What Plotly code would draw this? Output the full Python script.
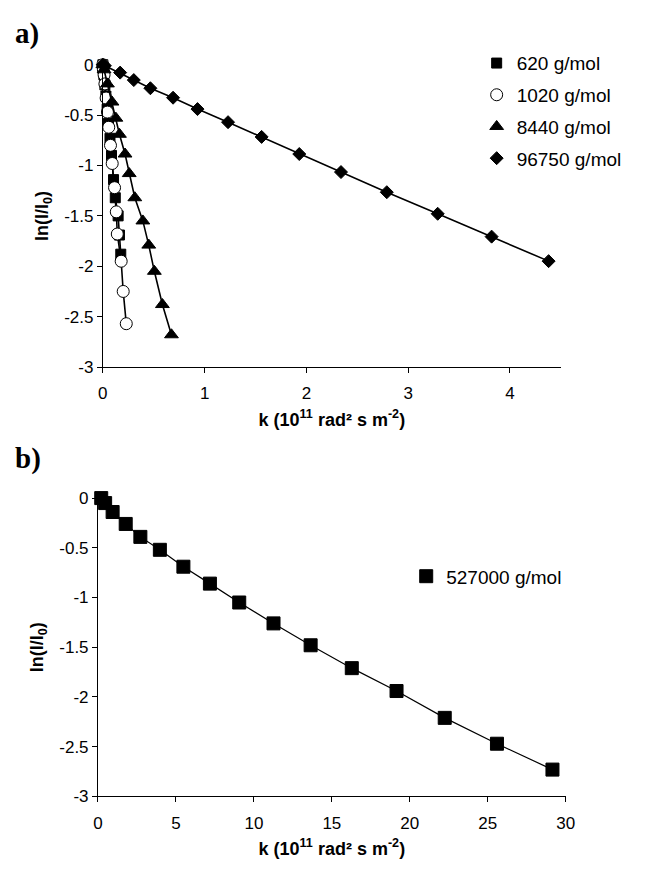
import plotly.graph_objects as go

# ---------------- Panel a data ----------------
k_620 = [0.0, 0.004, 0.01, 0.02, 0.03, 0.042, 0.056, 0.07, 0.085, 0.105, 0.122, 0.15, 0.163, 0.176]
y_620 = [0.0, -0.04, -0.1, -0.2, -0.31, -0.44, -0.58, -0.73, -0.9, -1.14, -1.32, -1.5, -1.69, -1.88]

k_1020 = [0.0, 0.005, 0.012, 0.02, 0.032, 0.045, 0.058, 0.075, 0.092, 0.115, 0.132, 0.142, 0.18, 0.2, 0.23]
y_1020 = [0.0, -0.05, -0.1, -0.19, -0.33, -0.47, -0.62, -0.8, -0.98, -1.22, -1.46, -1.68, -1.95, -2.25, -2.57]

k_8440 = [0.0, 0.012, 0.045, 0.09, 0.128, 0.163, 0.218, 0.259, 0.314, 0.393, 0.451, 0.506, 0.585, 0.674]
y_8440 = [0.0, -0.05, -0.19, -0.37, -0.53, -0.69, -0.886, -1.08, -1.32, -1.55, -1.79, -2.05, -2.38, -2.68]

k_96750 = [0.0, 0.02, 0.17, 0.304, 0.467, 0.69, 0.93, 1.23, 1.56, 1.93, 2.34, 2.79, 3.29, 3.82, 4.38]
y_96750 = [0.0, -0.01, -0.078, -0.152, -0.233, -0.327, -0.44, -0.57, -0.716, -0.886, -1.065, -1.265, -1.479, -1.706, -1.949]

# ---------------- Panel b data ----------------
k_527000 = [0.21, 0.46, 0.94, 1.78, 2.72, 3.97, 5.48, 7.18, 9.06, 11.26, 13.64, 16.28, 19.15, 22.24, 25.59, 29.15]
y_527000 = [0.0, -0.05, -0.14, -0.26, -0.39, -0.52, -0.69, -0.86, -1.05, -1.26, -1.48, -1.71, -1.94, -2.21, -2.47, -2.73]

# ---------------- Tick labels ----------------
y_tick_vals = [0, -0.5, -1, -1.5, -2, -2.5, -3]
y_tick_text = ["0", "-0.5", "-1", "-1.5", "-2", "-2.5", "-3"]
xa_tick_vals = [0, 1, 2, 3, 4]
xa_tick_text = ["0", "1", "2", "3", "4"]
xb_tick_vals = [0, 5, 10, 15, 20, 25, 30]
xb_tick_text = ["0", "5", "10", "15", "20", "25", "30"]

W, H = 653, 871
FONT = "Liberation Sans, Arial, sans-serif"
SERIF = "Liberation Serif, Times New Roman, serif"

fig = go.Figure()


def add_series(xs, ys, name, symbol, fill, size, lw, xaxis, yaxis, legend):
    fig.add_trace(go.Scatter(x=xs, y=ys, mode="lines", line=dict(color="black", width=lw),
                             showlegend=False, hoverinfo="skip", xaxis=xaxis, yaxis=yaxis))
    fig.add_trace(go.Scatter(x=xs, y=ys, mode="markers", name=name, legend=legend,
                             legendgroup=name,
                             marker=dict(symbol=symbol, size=size, color=fill,
                                         line=dict(color="black", width=1)),
                             cliponaxis=False, xaxis=xaxis, yaxis=yaxis))


add_series(k_620, y_620, "620 g/mol", "square", "black", 10, 1.6, "x", "y", "legend")
add_series(k_1020, y_1020, "1020 g/mol", "circle", "white", 12, 1.6, "x", "y", "legend")
add_series(k_8440, y_8440, "8440 g/mol", "triangle-up", "black", 12, 1.6, "x", "y", "legend")
add_series(k_96750, y_96750, "96750 g/mol", "diamond", "black", 10, 1.6, "x", "y", "legend")
add_series(k_527000, y_527000, "527000 g/mol", "square", "black", 13, 1.2, "x2", "y2", "legend2")

axis_common = dict(showline=True, linecolor="black", linewidth=1, ticks="outside",
                   ticklen=5, tickcolor="black", showgrid=False, zeroline=False,
                   tickfont=dict(family=FONT, size=17, color="black"))

xtitle = "<b>k (10<sup>11</sup> rad² s m<sup>-2</sup>)</b>"
ytitle = "<b>ln(I/I<sub>0</sub>)</b>"
title_font = dict(family=FONT, size=18, color="black")

fig.update_layout(
    width=W, height=H,
    margin=dict(l=0, r=0, t=0, b=0),
    paper_bgcolor="white", plot_bgcolor="white",
    xaxis=dict(domain=[100 / W, 568 / W], range=[0, 4.5], anchor="y",
               tickvals=xa_tick_vals, ticktext=xa_tick_text, ticklabelstandoff=6,
               title=dict(text=xtitle, font=title_font, standoff=10), **axis_common),
    yaxis=dict(domain=[1 - 366 / H, 1 - 57 / H], range=[-3, 0], anchor="x",
               tickvals=y_tick_vals, ticktext=y_tick_text,
               title=dict(text=ytitle, font=title_font, standoff=10), **axis_common),
    xaxis2=dict(domain=[95 / W, 573 / W], range=[0, 30], anchor="y2",
                tickvals=xb_tick_vals, ticktext=xb_tick_text, ticklabelstandoff=6,
                title=dict(text=xtitle, font=title_font, standoff=10), **axis_common),
    yaxis2=dict(domain=[1 - 805 / H, 1 - 500 / H], range=[-3, 0], anchor="x2",
                tickvals=y_tick_vals, ticktext=y_tick_text,
                title=dict(text=ytitle, font=title_font, standoff=10), **axis_common),
    legend=dict(x=482 / W, y=1 - 36 / H, xanchor="left", yanchor="top",
                font=dict(family=FONT, size=19, color="black"),
                bgcolor="rgba(0,0,0,0)", tracegroupgap=4, traceorder="grouped"),
    legend2=dict(x=410 / W, y=1 - 580 / H, xanchor="left", yanchor="middle",
                 font=dict(family=FONT, size=19, color="black"),
                 bgcolor="rgba(0,0,0,0)"),
    annotations=[
        dict(text="<b>a)</b>", x=8 / W, y=1 - 25 / H, xref="paper", yref="paper",
             xanchor="left", yanchor="middle", showarrow=False,
             font=dict(family=SERIF, size=29, color="black")),
        dict(text="<b>b)</b>", x=8 / W, y=1 - 460 / H, xref="paper", yref="paper",
             xanchor="left", yanchor="middle", showarrow=False,
             font=dict(family=SERIF, size=29, color="black")),
    ],
)

fig.write_html("out.html")
